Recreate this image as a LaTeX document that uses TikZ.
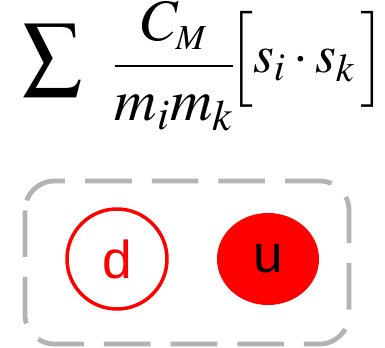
\documentclass[tikz,border=0pt]{standalone}
\usepackage{amsmath}
\usepackage{mathptmx}
\usepackage{fontspec}
\newfontfamily\quarkfont{Liberation Sans}
\usepackage{tikz}
\usetikzlibrary{shapes.geometric}
\definecolor{frameGray}{RGB}{179, 179, 179}
\definecolor{quarkRed}{RGB}{255, 0, 0}

\begin{document}
\begin{tikzpicture}[x=0.75pt, y=-0.75pt]
        \useasboundingbox (0,0) rectangle (385,348);
        \node[inner sep=0pt] (sum) at (53,60) {\fontsize{44}{52}\selectfont$\displaystyle\sum$};
        \node[inner sep=0pt] (frac) at (174,66) {\fontsize{44}{52}\selectfont$\dfrac{C_{\scriptscriptstyle M}}{m_i m_k}$};
        \node[inner sep=0pt] (spin) at (307,59) {\fontsize{40}{37}\selectfont$\Big[s_i\cdot s_k\,\Big]$};
        \draw[frameGray, line width=3.6pt, dash pattern=on 35pt off 15pt, rounded corners=22pt] (25,181) rectangle (349,344);
        \node[circle, draw=quarkRed, line width=2.6pt, minimum size=100pt*0.75, inner sep=0pt, text=quarkRed, font=\quarkfont\fontsize{40}{48}\selectfont] (d) at (117,259) {d};
        \node[ellipse, fill=quarkRed, minimum width=102pt*0.75, minimum height=92pt*0.75, inner sep=0pt, font=\quarkfont\fontsize{40}{48}\selectfont] (u) at (268,259) {u};
\end{tikzpicture}
\end{document}
